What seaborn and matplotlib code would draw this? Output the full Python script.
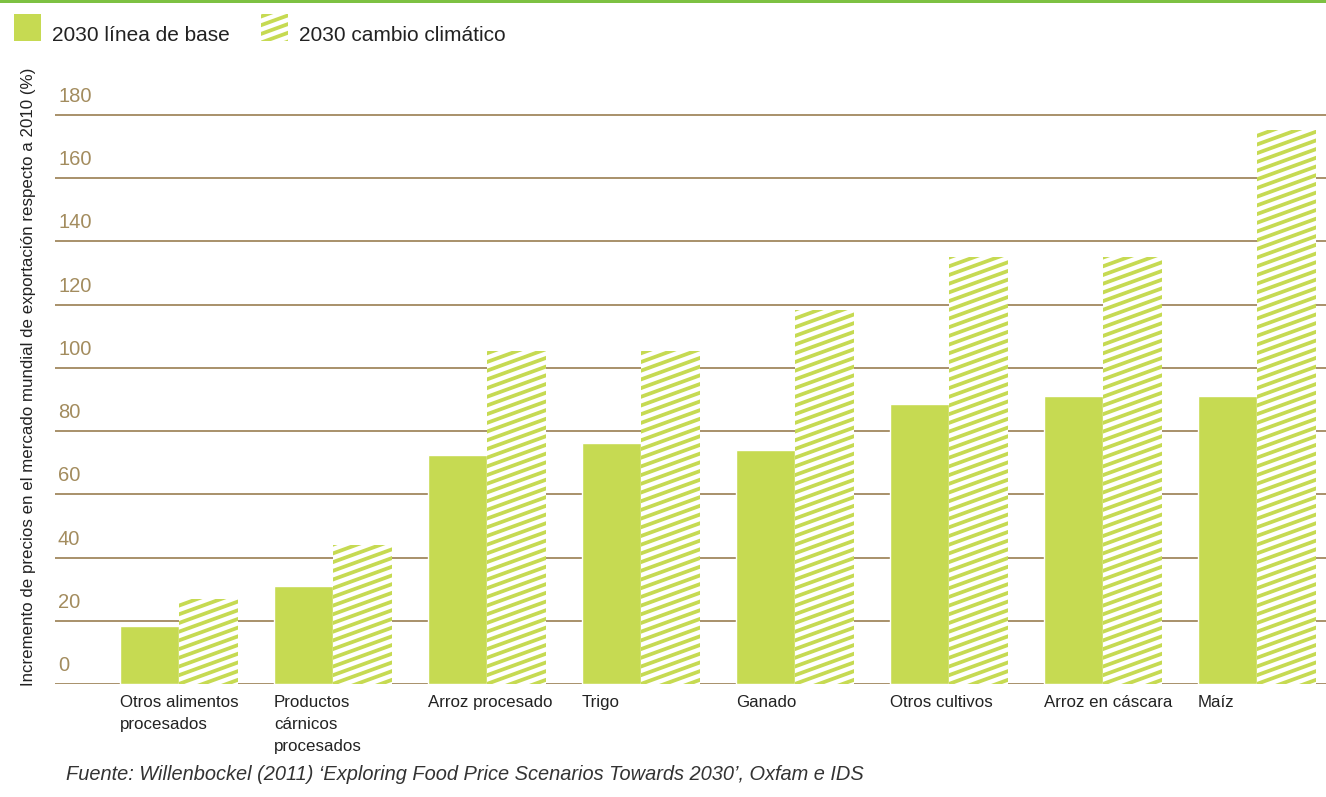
import numpy as np
import pandas as pd
import matplotlib
matplotlib.use("Agg")
import matplotlib.pyplot as plt
import seaborn as sns
from matplotlib import font_manager as fm
from matplotlib.patches import Patch, Rectangle
from matplotlib.lines import Line2D
from matplotlib.path import Path
from matplotlib.transforms import IdentityTransform, ScaledTranslation
from matplotlib.legend_handler import HandlerBase

# ---------------- data ----------------
categories = ["Otros alimentos\nprocesados", "Productos\ncárnicos\nprocesados",
              "Arroz procesado", "Trigo", "Ganado", "Otros cultivos",
              "Arroz en cáscara", "Maíz"]
series_names = ["2030 línea de base", "2030 cambio climático"]
baseline = [18.3, 31, 72.4, 76.2, 74, 88.6, 91.1, 91.1]
climate = [26.8, 44, 105.2, 105.2, 118.3, 135, 135, 175.2]
y_ticks = [0, 20, 40, 60, 80, 100, 120, 140, 160, 180]
y_label = "Incremento de precios en el mercado mundial de exportación respecto a 2010 (%)"
source = "Fuente: Willenbockel (2011) \u2018Exploring Food Price Scenarios Towards 2030\u2019, Oxfam e IDS"

# ---------------- style ----------------
GREEN = "#c6da52"
TOPGREEN = "#7dc142"
TAN = "#a38c5e"
GRID = "#a8916a"
TEXT = "#222222"

sns.set_theme(style="white")
plt.rcParams["font.family"] = ["Liberation Sans", "DejaVu Sans"]

_names = {f.name for f in fm.fontManager.ttflist}
if "Liberation Sans Narrow" in _names:
    XFONT, XFS, XLS = ["Liberation Sans Narrow", "DejaVu Sans"], 15, 1.3
else:
    XFONT, XFS, XLS = ["Liberation Sans", "DejaVu Sans"], 12.2, 1.58

W, H = 1326, 797
fig = plt.figure(figsize=(W / 100, H / 100), dpi=100)
fig.patch.set_facecolor("white")

ax_bottom_px = 684
px_per_unit = (684 - 115) / 180.0
ymax = 190
ax_h_px = ymax * px_per_unit
ax = fig.add_axes([55 / W, (H - ax_bottom_px) / H, (W - 55) / W, ax_h_px / H])

df = pd.DataFrame({
    "cat": categories * 2,
    "scen": [series_names[0]] * len(categories) + [series_names[1]] * len(categories),
    "val": baseline + climate,
})

sns.barplot(data=df, x="cat", y="val", hue="scen", hue_order=series_names,
            palette=[GREEN, GREEN], saturation=1, width=0.766, gap=0,
            errorbar=None, legend=False, ax=ax)

ax.set_xlim(-0.805, 7.448)
ax.set_ylim(0, ymax)
for s in ax.spines.values():
    s.set_visible(False)

# grid
ax.set_yticks(y_ticks)
ax.yaxis.grid(True, color=GRID, lw=1.4)
ax.xaxis.grid(False)
ax.set_axisbelow(True)
ax.tick_params(axis="y", length=0, labelleft=False)
for v in y_ticks:
    ax.annotate(str(v), xy=(0, v), xycoords=("axes fraction", "data"),
                xytext=(3, 9), textcoords="offset pixels",
                ha="left", va="bottom", fontsize=14.5, color=TAN)

# x labels, left aligned at the left edge of the solid bar
ax.set_xticks(range(len(categories)))
ax.set_xticklabels(categories, ha="left", va="top", fontsize=XFS, color=TEXT,
                   linespacing=XLS, family=XFONT)
ax.tick_params(axis="x", length=0, pad=7.8)
bar_px = 0.383 * (W - 55) / (7.448 + 0.805)
for lab in ax.get_xticklabels():
    lab.set_transform(lab.get_transform() + ScaledTranslation(-bar_px / 100, 0, fig.dpi_scale_trans))
ax.set_xlabel("")
ax.set_ylabel(y_label, fontsize=12.2, color=TEXT, va="center")
ax.yaxis.set_label_coords(-0.0212, 0.512)

# striped bars
slope = np.tan(np.radians(20))
period = 8.7
lw = 2.7
for bar in ax.containers[1]:
    bar.set_facecolor("white")
    bar.set_edgecolor("none")
    bar.set_linewidth(0)
    x0, y0 = ax.transData.transform((bar.get_x(), bar.get_y()))
    x1, y1 = ax.transData.transform((bar.get_x() + bar.get_width(), bar.get_y() + bar.get_height()))
    w = x1 - x0
    clip = Path([[x0, y0], [x1, y0], [x1, y1], [x0, y1], [x0, y0]], closed=True)
    start = np.floor((y0 - slope * w - period) / period) * period
    for c in np.arange(start, y1 + period, period):
        ln = Line2D([x0 - 3, x1 + 3], [c - slope * 3, c + slope * (w + 3)],
                    transform=IdentityTransform(), color=GREEN, lw=lw,
                    solid_capstyle="butt", zorder=bar.get_zorder() + 0.1)
        ax.add_artist(ln)
        ln.set_clip_path(clip, IdentityTransform())

ICON = 27 * 0.72  # icon size in points


class SolidHandler(HandlerBase):
    def create_artists(self, legend, orig_handle, xdescent, ydescent,
                       width, height, fontsize, trans):
        r = Rectangle((-xdescent, 0), ICON, ICON, transform=trans,
                      facecolor=GREEN, edgecolor="none")
        return [r]


class StripeHandler(HandlerBase):
    def create_artists(self, legend, orig_handle, xdescent, ydescent,
                       width, height, fontsize, trans):
        x0, y0 = -xdescent, 0
        cp = Path([[x0, y0], [x0 + ICON, y0], [x0 + ICON, y0 + ICON],
                   [x0, y0 + ICON], [x0, y0]], closed=True)
        arts = []
        per = period * 0.72
        for c in np.arange(y0 - slope * ICON - 2 * per, y0 + ICON + per, per):
            ln = Line2D([x0 - 2, x0 + ICON + 2], [c - slope * 2, c + slope * (ICON + 2)],
                        transform=trans, color=GREEN, lw=lw, solid_capstyle="butt")
            ln.set_clip_path(cp, trans)
            arts.append(ln)
        return arts


LFS = 15
h_solid = Patch(facecolor=GREEN, edgecolor="none", label=series_names[0])
h_stripe = Patch(facecolor="white", edgecolor="none", label=series_names[1])
fig.legend(handles=[h_solid, h_stripe], labels=series_names,
           handler_map={h_solid: SolidHandler(), h_stripe: StripeHandler()},
           loc="upper left", bbox_to_anchor=(14 / W, 1 - 25 / H), ncol=2,
           frameon=False, fontsize=LFS, handlelength=ICON / LFS, handleheight=1.0,
           handletextpad=0.53, columnspacing=1.5, borderpad=0, borderaxespad=0,
           labelcolor=TEXT)

# top rule
fig.add_artist(Rectangle((0, 1 - 2.5 / H), 1, 2.5 / H, transform=fig.transFigure,
                         facecolor=TOPGREEN, edgecolor="none"))

# source
fig.text(66 / W, 1 - 775 / H, source, style="italic", fontsize=14.4,
         color="#333333", ha="left", va="center")

fig.savefig("out.png", dpi=100)
